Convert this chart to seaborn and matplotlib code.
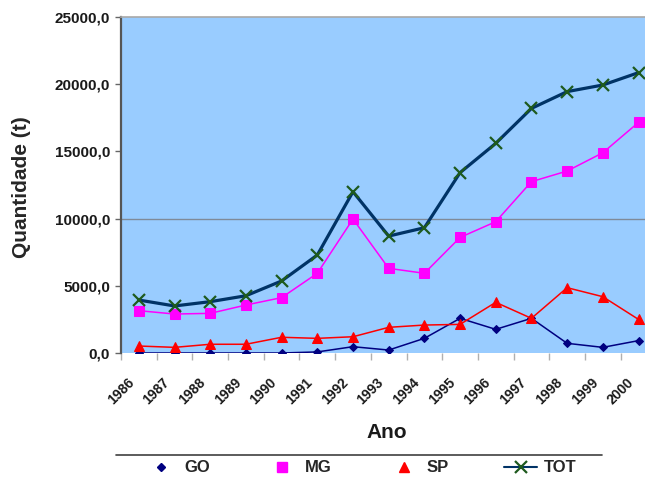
import matplotlib
matplotlib.use("Agg")
import matplotlib.pyplot as plt
from matplotlib.lines import Line2D
from matplotlib.transforms import ScaledTranslation
import numpy as np
import pandas as pd
import seaborn as sns

years = ["1986", "1987", "1988", "1989", "1990", "1991", "1992", "1993",
         "1994", "1995", "1996", "1997", "1998", "1999", "2000"]
go = [0, 0, 0, 0, 0, 80, 470, 220, 1090, 2580, 1760, 2580, 720, 420, 920]
mg = [3150, 2900, 2950, 3570, 4120, 5930, 9970, 6300, 5930, 8600, 9770,
      12750, 13540, 14900, 17160]
sp = [520, 420, 650, 650, 1170, 1090, 1210, 1910, 2080, 2130, 3770, 2580,
      4860, 4190, 2500]
tot = [3940, 3500, 3820, 4260, 5360, 7290, 12000, 8700, 9320, 13420, 15600,
       18200, 19450, 19940, 20860]
yticks = [0, 5000, 10000, 15000, 20000, 25000]

sns.set_theme(style="white")
plt.rcParams["font.family"] = ["Liberation Sans", "DejaVu Sans"]
plt.rcParams["font.weight"] = "bold"

df = pd.DataFrame({"pos": np.arange(len(years)), "GO": go, "MG": mg,
                   "SP": sp, "TOT": tot})

fig = plt.figure(figsize=(6.45, 4.78), dpi=100)
ax = fig.add_axes([0.1876, 0.2615, 0.830, 0.7029])
ax.set_facecolor("#99CCFF")

styles = {
    "GO": dict(color="#000080", marker="D", markersize=4.5, lw=1.1),
    "MG": dict(color="#FF00FF", marker="s", markersize=6.5, lw=1.1),
    "SP": dict(color="#FF0000", marker="^", markersize=7, lw=1.1),
}
for name, st in styles.items():
    sns.lineplot(data=df, x="pos", y=name, ax=ax, color=st["color"],
                 lw=st["lw"], marker=st["marker"], markersize=st["markersize"],
                 markeredgecolor=st["color"], markerfacecolor=st["color"],
                 zorder=3)
sns.lineplot(data=df, x="pos", y="TOT", ax=ax, color="#003366", lw=2.3,
             marker="x", markersize=8, markeredgecolor="#1E5A1E",
             markeredgewidth=1.6, zorder=4)

ax.axhline(10000, color="#7F8A99", lw=1.0, zorder=1)

ax.set_xlim(-0.5, len(years) - 0.5)
ax.set_ylim(0, 25000)
ax.set_yticks(yticks)
ax.set_yticklabels([f"{v},0" for v in yticks], fontsize=11,
                   fontweight="bold", color="#1a1a1a")
ax.set_xticks(np.arange(len(years) + 1) - 0.5, minor=True)
ax.set_xticks(np.arange(len(years)))
ax.set_xticklabels(years, rotation=45, ha="right", rotation_mode="anchor",
                   fontsize=10, fontweight="bold", color="#1a1a1a")
ax.tick_params(axis="x", which="major", length=0, pad=8)
ax.tick_params(axis="x", which="minor", length=5, color="#B0B0B0", width=1,
               bottom=True)
ax.tick_params(axis="y", which="major", length=4, color="#666666", width=1,
               left=True, pad=4)

for side in ["right", "bottom"]:
    ax.spines[side].set_visible(False)
ax.spines["left"].set_color("#555555")
ax.spines["left"].set_linewidth(1.6)
ax.spines["top"].set_color("#A8A8A8")
ax.spines["top"].set_linewidth(1.2)

ax.set_xlabel("")
ax.set_ylabel("Quantidade (t)", fontsize=15, fontweight="bold")
ax.yaxis.set_label_coords(-0.168, 0.494)
fig.text(387 / 645, 1 - 432 / 478, "Ano", fontsize=15, fontweight="bold",
         ha="center", va="center", color="#1a1a1a")

# Legend strip under the axis title
fig.add_artist(Line2D([116 / 645, 602 / 645], [1 - 455 / 478, 1 - 455 / 478],
                      color="#404040", lw=1.2, transform=fig.transFigure))
handles = [
    Line2D([], [], ls="none", marker="D", markersize=4.5, color="#000080"),
    Line2D([], [], ls="none", marker="s", markersize=6.5, color="#FF00FF"),
    Line2D([], [], ls="none", marker="^", markersize=7, color="#FF0000"),
    Line2D([], [], color="#003366", lw=1.5, marker="x", markersize=8,
           markeredgecolor="#1E5A1E", markeredgewidth=1.6),
]
fig.legend(handles, ["GO", "MG", "SP", "TOT"], ncol=4, frameon=False,
           loc="center", bbox_to_anchor=(0.559, 1 - 468 / 478),
           prop={"weight": "bold", "size": 12}, handlelength=2.0,
           handletextpad=0.4, columnspacing=3.3, borderpad=0)

# Nudge the slanted year labels left and down
fig.canvas.draw()
shift = ScaledTranslation(-0.12, -0.11, fig.dpi_scale_trans)
for tick in ax.xaxis.get_major_ticks():
    tick.label1.set_transform(tick.label1.get_transform() + shift)

fig.savefig("out.png", dpi=100)
